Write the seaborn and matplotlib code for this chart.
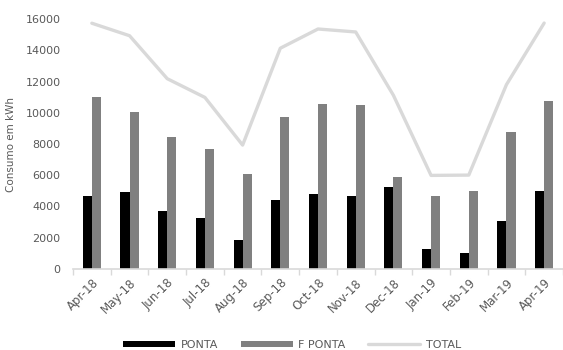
import numpy as np
import pandas as pd
import matplotlib
matplotlib.use("Agg")
import matplotlib.pyplot as plt
from matplotlib.patches import Patch
from matplotlib.lines import Line2D
import seaborn as sns

months = ["Apr-18", "May-18", "Jun-18", "Jul-18", "Aug-18", "Sep-18", "Oct-18",
          "Nov-18", "Dec-18", "Jan-19", "Feb-19", "Mar-19", "Apr-19"]
ponta = [4700, 4900, 3730, 3280, 1850, 4400, 4820, 4690, 5230, 1300, 1000, 3050, 5010]
f_ponta = [11030, 10030, 8450, 7700, 6080, 9730, 10540, 10480, 5890, 4690, 5010, 8750, 10730]
total = [15730, 14930, 12180, 10980, 7930, 14130, 15360, 15170, 11120, 5990, 6010, 11800, 15740]
y_ticks = [0, 2000, 4000, 6000, 8000, 10000, 12000, 14000, 16000]

sns.set_theme(style="white")
plt.rcParams["font.family"] = ["DejaVu Sans"]

text_color = "#595959"
axis_color = "#d9d9d9"
bar_colors = {"PONTA": "#000000", "F PONTA": "#808080"}

df = pd.DataFrame({
    "mes": months * 2,
    "serie": ["PONTA"] * len(months) + ["F PONTA"] * len(months),
    "consumo": ponta + f_ponta,
})

fig = plt.figure(figsize=(5.63, 3.5), dpi=100)
ax = fig.add_axes([73 / 563, 81 / 350, 490 / 563, 250 / 350])

sns.barplot(data=df, x="mes", y="consumo", hue="serie", order=months,
            hue_order=["PONTA", "F PONTA"], palette=bar_colors,
            width=0.48, gap=0, saturation=1, legend=False, ax=ax, errorbar=None,
            linewidth=0, edgecolor="none")
sns.lineplot(x=np.arange(len(months)), y=total, color=axis_color, linewidth=2.4,
             ax=ax, legend=False)

ax.set_xlim(-0.5, len(months) - 0.5)
ax.set_ylim(0, 16000)
ax.set_yticks(y_ticks)
ax.set_yticklabels([str(v) for v in y_ticks], fontsize=8, color=text_color)
ax.set_xticks(np.arange(len(months)))
ax.set_xticklabels(months, rotation=45, ha="right", rotation_mode="anchor",
                   fontsize=8.5, color=text_color)
ax.set_xticks(np.arange(len(months) + 1) - 0.5, minor=True)
ax.tick_params(axis="x", which="major", length=0, pad=5)
ax.tick_params(axis="x", which="minor", length=4, color=axis_color, width=1,
               bottom=True)
ax.tick_params(axis="y", length=0, pad=9)
ax.set_xlabel("")
ax.set_ylabel("Consumo em kWh", fontsize=7.5, color=text_color, labelpad=7)

for side in ["top", "right", "left"]:
    ax.spines[side].set_visible(False)
ax.spines["bottom"].set_color(axis_color)
ax.spines["bottom"].set_linewidth(1.2)

handles = [
    Patch(facecolor="#000000", edgecolor="none"),
    Patch(facecolor="#808080", edgecolor="none"),
    Line2D([0], [0], color=axis_color, linewidth=2.4),
]
fig.legend(handles, ["PONTA", "F PONTA", "TOTAL"], loc="center",
           bbox_to_anchor=(292 / 563, 1 - 345 / 350), ncol=3, frameon=False,
           fontsize=8, labelcolor=text_color, handlelength=4.7, handleheight=0.55,
           handletextpad=0.5, columnspacing=2.0)

fig.savefig("out.png", dpi=100)
